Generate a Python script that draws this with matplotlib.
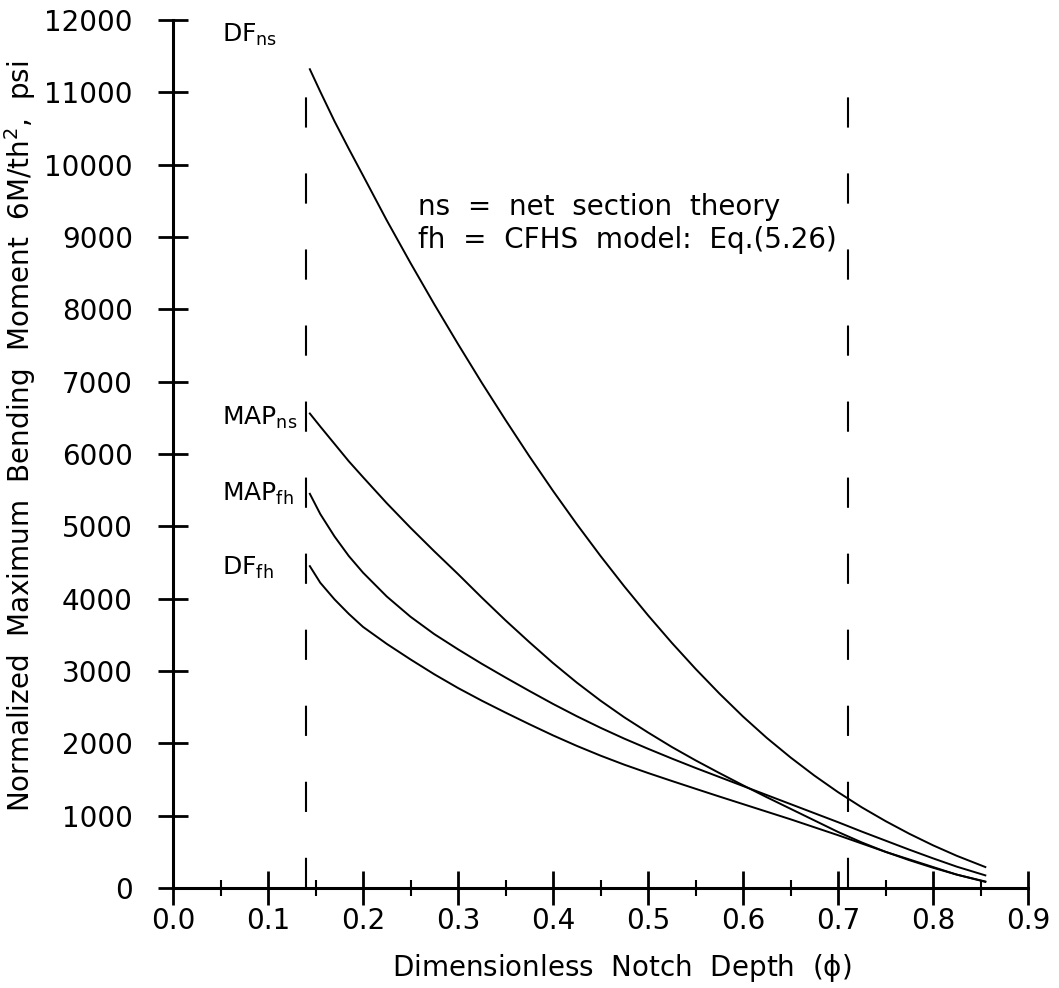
import matplotlib
matplotlib.use("Agg")
import matplotlib.pyplot as plt
import numpy as np

plt.rcParams['font.family'] = ['DejaVu Sans']
plt.rcParams['mathtext.default'] = 'regular'

# notch depth values
phi = [0.144, 0.155, 0.17, 0.185, 0.2, 0.225, 0.25, 0.275,
       0.3, 0.325, 0.35, 0.375, 0.4, 0.425, 0.45, 0.475, 0.5, 0.525, 0.55, 0.575,
       0.6, 0.625, 0.65, 0.675, 0.7, 0.725, 0.75, 0.775, 0.8, 0.825, 0.855]

df_ns = [11320, 11010, 10600, 10220, 9850, 9230, 8640, 8070,
         7520, 6985, 6470, 5970, 5490, 5030, 4590, 4170, 3770, 3390, 3030, 2690,
         2370, 2075, 1805, 1555, 1325, 1115, 925, 750, 590, 445, 290]
map_ns = [6560, 6380, 6140, 5900, 5680, 5320, 4980, 4655,
          4340, 4015, 3700, 3400, 3110, 2840, 2590, 2360, 2150, 1950, 1765, 1590,
          1420, 1255, 1095, 935, 775, 630, 500, 385, 280, 185, 90]
map_fh = [5450, 5170, 4860, 4590, 4360, 4030, 3750, 3510,
          3300, 3100, 2910, 2725, 2545, 2375, 2215, 2065, 1925, 1790, 1660, 1535,
          1410, 1285, 1160, 1035, 910, 780, 655, 530, 410, 295, 175]
df_fh = [4450, 4220, 3990, 3790, 3610, 3375, 3160, 2955,
         2765, 2590, 2425, 2265, 2110, 1965, 1830, 1705, 1590, 1480, 1372, 1265,
         1160, 1055, 950, 840, 730, 615, 500, 395, 290, 185, 85]

curve_labels = ['DF$_{ns}$', 'MAP$_{ns}$', 'MAP$_{fh}$', 'DF$_{fh}$']
label_y = [11800, 6500, 5450, 4420]

limits = [0.14, 0.71]
limit_top = 10940

fig = plt.figure(figsize=(10.59, 9.88), dpi=100)
ax = fig.add_axes([0.1634, 0.1012, 0.8074, 0.8785])

for ys in [df_ns, map_ns, map_fh, df_fh]:
    ax.plot(phi, ys, color='black', lw=1.4, clip_on=False)

for xv in limits:
    ax.plot([xv, xv], [0, limit_top], color='black', lw=1.5,
            linestyle=(0, (14.5, 22)), clip_on=False)

for lab, yv in zip(curve_labels, label_y):
    ax.text(0.052, yv, lab, fontsize=18, ha='left', va='center')

ax.text(0.258, 9420, 'ns  =  net  section  theory', fontsize=20, ha='left', va='center')
ax.text(0.258, 8960, 'fh  =  CFHS  model:  Eq.(5.26)', fontsize=20, ha='left', va='center')

ax.set_xlim(0, 0.9)
ax.set_ylim(0, 12000)
ax.set_xticks(np.arange(0, 0.91, 0.1))
ax.set_xticks(np.arange(0.05, 0.9, 0.1), minor=True)
ax.set_xticklabels(['%.1f' % v for v in np.arange(0, 0.91, 0.1)])
ax.set_yticks(np.arange(0, 12001, 1000))

ax.spines['top'].set_visible(False)
ax.spines['right'].set_visible(False)
ax.spines['left'].set_linewidth(2.2)
ax.spines['bottom'].set_linewidth(2.2)

ax.tick_params(axis='both', which='major', direction='inout', length=24, width=2,
               labelsize=20)
ax.tick_params(axis='x', which='major', pad=2)
ax.tick_params(axis='x', which='minor', direction='inout', length=12, width=1.5)
ax.tick_params(axis='y', which='major', length=22, pad=18)

ax.set_xlabel('Dimensionless  Notch  Depth  ($\\phi$)', fontsize=20)
ax.set_ylabel('Normalized  Maximum  Bending  Moment  6M/th$^2$,  psi', fontsize=20)
ax.xaxis.set_label_coords(0.525, -0.074)
ax.yaxis.set_label_coords(-0.158, 0.52)

fig.savefig('out.png', dpi=100)
